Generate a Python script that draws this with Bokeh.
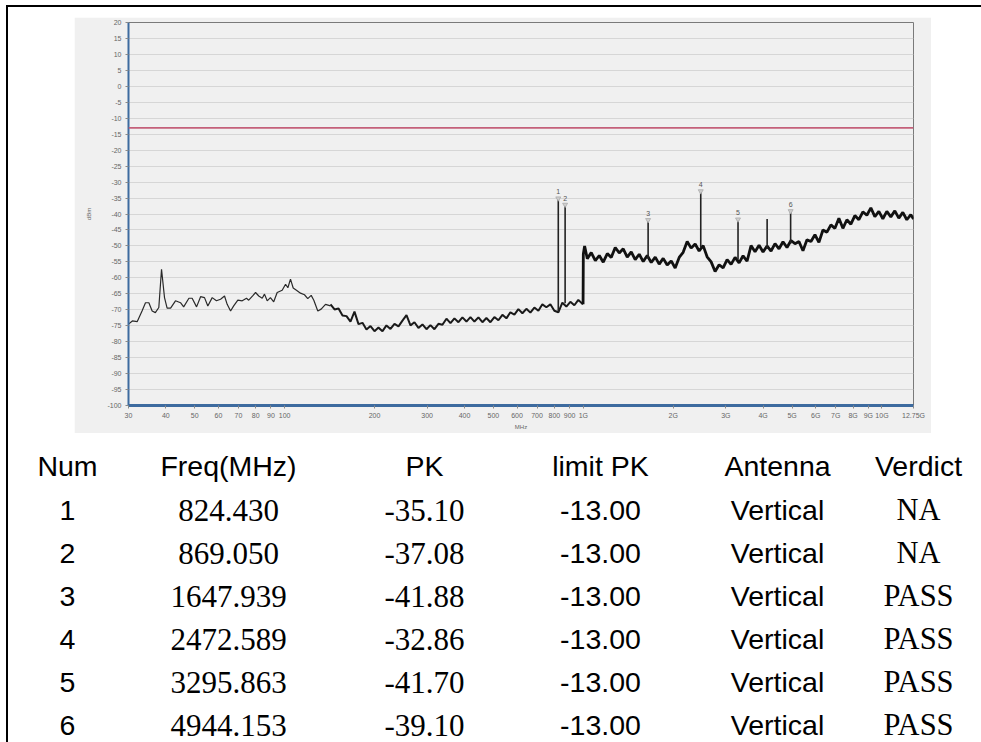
from bokeh.plotting import figure
from bokeh.models import Range1d, FixedTicker, Span, ColumnDataSource, Spacer
from bokeh.layouts import column, row
from bokeh.embed import file_html
from bokeh.resources import INLINE
from bokeh.core.properties import value

# ---------------- data ----------------
# low-frequency part of the trace (MHz, dBm)
low_freq = [30.0, 30.9, 32.1, 33.3, 34.2, 35.1, 36.0, 36.9, 37.9, 38.7, 39.6, 40.4, 41.5,
            43.1, 44.8, 45.9, 47.8, 49.0, 50.7, 52.3, 53.9, 55.3, 57.2, 59.1, 61.0, 62.9,
            64.2, 65.9, 67.5, 69.7, 72.1, 74.5, 75.8, 78.4, 79.9, 81.9, 84.1, 85.6, 87.4,
            89.6, 91.9, 94.4, 98.1, 100.7, 102.5, 104.6, 106.8, 109.5, 113.0, 116.5, 119.5,
            122.7, 125.2, 129.1, 132.5, 137.0, 142.4]
low_level = [-74.5, -73.5, -73.7, -70.4, -67.8, -67.8, -70.4, -70.9, -69.3, -57.3, -66.2, -69.5, -69.5,
             -67.2, -67.8, -69.1, -66.4, -66.4, -69.1, -65.9, -66.2, -68.8, -66.2, -67.2, -66.7, -65.7,
             -68.3, -70.4, -68.8, -67.0, -67.2, -66.4, -67.0, -65.5, -64.6, -65.7, -66.4, -65.1, -67.2,
             -66.2, -67.5, -64.6, -63.9, -62.0, -63.1, -60.4, -63.2, -63.9, -64.8, -65.3, -66.5,
             -65.5, -67.0, -70.4, -69.8, -68.3, -68.8]

# middle part (noisy)
mid_freq = [142.4, 146.9, 151.5, 156.2, 161.1, 166.1, 171.3, 176.7, 182.2, 187.9, 193.8, 199.9,
            206.1, 212.6, 219.2, 226.1, 233.2, 240.5, 248.0, 255.8, 263.8, 272.0, 280.5, 289.3,
            298.4, 307.7, 317.3, 327.3, 337.5, 348.1, 359.0, 370.2, 381.8, 393.7, 406.1, 418.8,
            431.9, 445.4, 459.3, 473.7, 488.5, 503.8, 519.6, 535.8, 552.6, 569.9, 587.7, 606.1,
            625.1, 644.6, 664.8, 685.6, 707.1, 729.2, 752.0, 775.6, 799.8, 824.9, 850.7, 877.3,
            904.8, 933.1, 962.3, 992.4, 998.0]
mid_level = [-68.3, -69.9, -69.6, -71.8, -72.0, -73.7, -70.6, -74.5, -74.1, -76.2, -75.1, -76.7,
             -75.6, -76.7, -74.9, -76.0, -74.4, -75.2, -73.4, -71.7, -74.9, -73.9, -75.7, -74.6,
             -76.1, -74.8, -76.1, -74.4, -74.7, -72.8, -74.2, -72.7, -73.9, -72.4, -73.7, -72.3,
             -73.7, -72.4, -73.9, -72.6, -73.9, -72.3, -73.3, -71.6, -72.7, -70.8, -71.5, -69.8,
             -71.1, -69.7, -70.9, -69.3, -70.3, -68.3, -69.2, -68.3, -70.3, -70.8, -67.8, -69.0,
             -67.5, -68.6, -66.9, -68.1, -68.3]

# high part (dense noise band)
high_freq = [998.0, 1000.0, 1010.0, 1031.0, 1063.0, 1097.0, 1131.0, 1166.0, 1203.0, 1240.0, 1279.0,
             1319.0, 1360.0, 1403.0, 1447.0, 1492.0, 1539.0, 1587.0, 1637.0, 1688.0, 1741.0,
             1795.0, 1851.0, 1909.0, 1969.0, 2030.0, 2094.0, 2159.0, 2227.0, 2296.0, 2368.0,
             2442.0, 2519.0, 2597.0, 2679.0, 2762.0, 2849.0, 2938.0, 3030.0, 3124.0, 3222.0,
             3323.0, 3427.0, 3534.0, 3644.0, 3758.0, 3876.0, 3997.0, 4122.0, 4251.0, 4384.0,
             4521.0, 4662.0, 4808.0, 4958.0, 5113.0, 5273.0, 5438.0, 5608.0, 5783.0, 5964.0,
             6150.0, 6343.0, 6541.0, 6746.0, 6957.0, 7174.0, 7398.0, 7630.0, 7868.0, 8114.0,
             8368.0, 8630.0, 8899.0, 9178.0, 9465.0, 9761.0, 10066.0, 10381.0, 10705.0, 11040.0,
             11386.0, 11742.0, 12109.0, 12488.0, 12750.0]
high_level = [-68.3, -52.5, -50.0, -54.0, -52.1, -54.6, -53.0, -55.1, -52.4, -53.6, -50.5,
              -52.2, -50.9, -53.5, -51.9, -54.3, -52.6, -54.9, -53.0, -55.2, -53.5,
              -55.7, -53.9, -56.0, -54.7, -56.9, -53.6, -52.0, -48.6, -50.7, -49.4,
              -51.6, -49.9, -53.4, -55.0, -58.0, -55.9, -56.9, -54.3, -55.8, -53.6,
              -55.3, -53.1, -54.8, -49.9, -51.8, -49.8, -51.9, -50.0, -51.6, -49.3,
              -50.9, -48.7, -50.5, -48.3, -49.3, -48.6, -51.5, -48.1, -48.6, -46.5,
              -48.9, -45.0, -45.7, -43.4, -44.5, -41.3, -44.5, -41.8, -43.2, -40.5,
              -41.8, -39.3, -40.4, -38.1, -40.8, -39.2, -41.5, -39.2, -40.9, -39.0,
              -41.3, -39.5, -41.8, -40.2, -41.6]

# marker table
marker_num = [1, 2, 3, 4, 5, 6]
marker_freq = [824.430, 869.050, 1647.939, 2472.589, 3295.863, 4944.153]
marker_pk = [-35.10, -37.08, -41.88, -32.86, -41.70, -39.10]
marker_base = [-70.9, -68.0, -54.0, -50.6, -54.3, -49.3]
limit_pk = [-13.00, -13.00, -13.00, -13.00, -13.00, -13.00]
antenna = ["Vertical", "Vertical", "Vertical", "Vertical", "Vertical", "Vertical"]
verdict = ["NA", "NA", "PASS", "PASS", "PASS", "PASS"]
headers = ["Num", "Freq(MHz)", "PK", "limit PK", "Antenna", "Verdict"]

# unlabelled spur
spur_freq = [4125.0]
spur_base = [-51.0]
spur_top = [-41.6]

# axes
x_ticks = [30, 40, 50, 60, 70, 80, 90, 100, 200, 300, 400, 500, 600, 700, 800, 900,
           1000, 2000, 3000, 4000, 5000, 6000, 7000, 8000, 9000, 10000, 12750]
x_tick_labels = ["30", "40", "50", "60", "70", "80", "90", "100", "200", "300", "400", "500",
                 "600", "700", "800", "900", "1G", "2G", "3G", "4G", "5G", "6G", "7G", "8G",
                 "9G", "10G", "12.75G"]
y_ticks = [-100, -95, -90, -85, -80, -75, -70, -65, -60, -55, -50, -45, -40, -35, -30,
           -25, -20, -15, -10, -5, 0, 5, 10, 15, 20]

# ---------------- chart ----------------
PANEL = "#f0f0f0"
p = figure(frame_width=785, frame_height=383, x_axis_type="log",
           x_range=Range1d(30, 12750), y_range=Range1d(-100, 20),
           output_backend="svg", toolbar_location=None,
           min_border_left=54, min_border_right=18, min_border_top=5, min_border_bottom=28,
           background_fill_color=PANEL, border_fill_color=PANEL,
           outline_line_color="#7a7a7a", outline_line_width=1,
           margin=(10, 0, 0, 66))

p.xaxis.ticker = FixedTicker(ticks=x_ticks)
p.xaxis.major_label_overrides = {float(t): l for t, l in zip(x_ticks, x_tick_labels)}
p.yaxis.ticker = FixedTicker(ticks=y_ticks)
p.yaxis.major_label_overrides = {float(t): str(t) for t in y_ticks}

for ax in (p.xaxis[0], p.yaxis[0]):
    ax.axis_line_color = "#3d6b9f"
    ax.major_tick_line_color = "#8a8a8a"
    ax.major_tick_in = 0
    ax.major_tick_out = 3
    ax.minor_tick_line_color = None
    ax.major_label_text_font = "Liberation Sans"
    ax.major_label_text_font_size = "7px"
    ax.major_label_text_color = "#666666"
    ax.axis_label_text_font = "Liberation Sans"
    ax.axis_label_text_font_size = "6px"
    ax.axis_label_text_font_style = "normal"
    ax.axis_label_text_color = "#666666"
p.yaxis.axis_line_width = 2
p.xaxis.axis_line_width = 3
p.yaxis.major_label_standoff = 4
p.xaxis.major_label_standoff = 3
p.yaxis.axis_label = "dBm"
p.xaxis.axis_label = "MHz"
p.yaxis.axis_label_standoff = 12
p.xaxis.axis_label_standoff = 2

p.xgrid.grid_line_color = None
p.ygrid.grid_line_color = "#d6d6d6"
p.ygrid.grid_line_width = 1

p.add_layout(Span(location=limit_pk[0], dimension="width", line_color="#c4607a", line_width=1.6))

p.line(low_freq, low_level, line_color="#2a2a2a", line_width=1.2)
p.line(mid_freq, mid_level, line_color="#1a1a1a", line_width=2.0)
p.line(high_freq, high_level, line_color="#111111", line_width=2.8)

p.segment(x0=marker_freq, y0=marker_base, x1=marker_freq, y1=marker_pk,
          line_color="#222222", line_width=1.6)
p.segment(x0=spur_freq, y0=spur_base, x1=spur_freq, y1=spur_top,
          line_color="#222222", line_width=1.6)
p.scatter(marker_freq, marker_pk, marker="inverted_triangle", size=5,
          fill_color="#cfcfcf", line_color="#aaaaaa", line_width=0.8)
p.text(marker_freq, marker_pk, text=[str(n) for n in marker_num],
       text_font=value("Liberation Sans"), text_font_size="7px", text_color="#555555",
       text_align="center", text_baseline="bottom", y_offset=-4)

# ---------------- table ----------------
TW, TH = 973, 309
t = figure(width=TW, height=TH, x_range=Range1d(0, TW), y_range=Range1d(TH, 0),
           output_backend="svg", toolbar_location=None, min_border=0,
           x_axis_location=None, y_axis_location=None,
           outline_line_color=None, background_fill_color="white", border_fill_color="white")
t.grid.visible = False

col_x = [59, 220, 416, 592, 769, 910]
header_y = 32
row0_y = 76.5
row_step = 43.0
row_y = [row0_y + row_step * i for i in range(len(marker_num))]

SANS = "Liberation Sans"
SERIF = "Liberation Serif"

t.text(x=col_x, y=[header_y] * len(headers), text=headers,
       text_font=value(SANS), text_font_size="28.5px", text_color="black",
       text_align="center", text_baseline="middle")

columns = [
    ([str(n) for n in marker_num], SANS, "28.5px"),
    (["%.3f" % f for f in marker_freq], SERIF, "31px"),
    (["%.2f" % v for v in marker_pk], SERIF, "31px"),
    (["%.2f" % v for v in limit_pk], SANS, "28.5px"),
    (antenna, SANS, "28.5px"),
    (verdict, SERIF, "30.5px"),
]
for cx, (texts, font, size) in zip(col_x, columns):
    src = ColumnDataSource(dict(x=[cx] * len(texts), y=row_y, text=texts))
    t.text(x="x", y="y", text="text", source=src, text_font=value(font),
           text_font_size=size, text_color="black", text_align="center",
           text_baseline="middle")

# ---------------- page ----------------
# each plot is wrapped in its own row so the column does not align their frames
top_gap = Spacer(width=981, height=5)
left_gap = Spacer(width=6, height=737)
top_bar = Spacer(width=975, height=2, styles={"background-color": "black"})
left_bar = Spacer(width=2, height=735, styles={"background-color": "black"})
layout = column(top_gap, row(left_gap, column(top_bar, row(left_bar, column(row(p), row(t))))))

open("out.html", "w").write(file_html(layout, INLINE))
